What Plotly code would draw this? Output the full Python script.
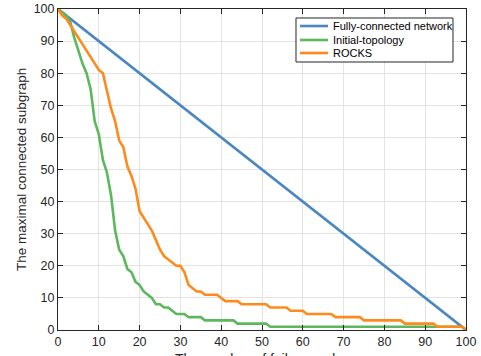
import plotly.graph_objects as go

x_full = [0, 100]
y_full = [100, 0]

x_nodes = list(range(0, 101))

y_initial = [100, 99, 98, 96, 91, 87, 83, 80, 75, 65,
             61, 53, 49, 42, 31, 25, 23, 19, 18, 15,
             14, 12, 11, 10, 8, 8, 7, 7, 6, 5,
             5, 5, 4, 4, 4, 4, 3, 3, 3, 3,
             3, 3, 3, 3, 2, 2, 2, 2, 2, 2,
             2, 2, 1, 1, 1, 1, 1, 1, 1, 1,
             1, 1, 1, 1, 1, 1, 1, 1, 1, 1,
             1, 1, 1, 1, 1, 1, 1, 1, 1, 1,
             1, 1, 1, 1, 1, 1, 1, 1, 1, 1,
             1, 1, 1, 1, 1, 1, 1, 1, 1, 1,
             0]

y_rocks = [100, 98, 97, 95, 93, 91, 89, 87, 85, 83,
           81, 80, 74, 69, 65, 59, 57, 51, 48, 44,
           37, 35, 33, 31, 28, 25, 23, 22, 21, 20,
           20, 18, 14, 13, 12, 12, 11, 11, 11, 11,
           10, 9, 9, 9, 9, 8, 8, 8, 8, 8,
           8, 8, 7, 7, 7, 7, 7, 6, 6, 6,
           6, 5, 5, 5, 5, 5, 5, 5, 4, 4,
           4, 4, 4, 4, 4, 3, 3, 3, 3, 3,
           3, 3, 3, 3, 3, 2, 2, 2, 2, 2,
           2, 2, 2, 1, 1, 1, 1, 1, 1, 1,
           0]

series_names = ["Fully-connected network", "Initial-topology", "ROCKS"]
tick_vals = list(range(0, 101, 10))
x_title = "The number of failure nodes"
y_title = "The maximal connected subgraph"

BLUE = "#4a87c0"
GREEN = "#5cb85c"
ORANGE = "#ff8a1c"
colors = [BLUE, GREEN, ORANGE]

fig = go.Figure()
for xs, ys, name, col in zip([x_full, x_nodes, x_nodes], [y_full, y_initial, y_rocks],
                             series_names, colors):
    fig.add_trace(go.Scatter(x=xs, y=ys, mode="lines", name=name,
                             line=dict(color=col, width=2.6), showlegend=False))

axis_common = dict(
    tickvals=tick_vals,
    ticks="inside",
    ticklen=5,
    tickcolor="#262626",
    showline=True,
    linecolor="#262626",
    linewidth=1,
    mirror="allticks",
    showgrid=True,
    gridcolor="#e3e3e3",
    gridwidth=1,
    zeroline=False,
    automargin=False,
    tickfont=dict(family="Liberation Sans, Arial, sans-serif", size=12.5, color="#262626"),
)

# Legend box (MATLAB style), built from shapes and annotations
leg_x0, leg_x1, leg_y0, leg_y1 = 0.5833, 0.9681, 0.8349, 0.972
row_y = [0.9470, 0.9034, 0.8629]
shapes = [dict(type="rect", xref="paper", yref="paper", x0=leg_x0, x1=leg_x1, y0=leg_y0, y1=leg_y1,
               line=dict(color="#262626", width=1), fillcolor="white", layer="above")]
annotations = []
for name, col, ry in zip(series_names, colors, row_y):
    shapes.append(dict(type="line", xref="paper", yref="paper", x0=0.5931, x1=0.6618, y0=ry, y1=ry,
                       line=dict(color=col, width=2.6), layer="above"))
    annotations.append(dict(text=name, xref="paper", yref="paper", x=0.6691, y=ry,
                            xanchor="left", yanchor="middle", showarrow=False,
                            font=dict(size=11, color="#000000")))

annotations.append(dict(text=x_title, xref="paper", yref="paper", x=0.5, y=0,
                        xanchor="center", yanchor="top", yshift=-19, showarrow=False,
                        font=dict(size=14, color="#262626")))
annotations.append(dict(text=y_title, xref="paper", yref="paper", x=0, y=0.5,
                        xanchor="center", yanchor="middle", xshift=-36.5, textangle=-90,
                        showarrow=False, font=dict(size=13.5, color="#262626")))

fig.update_layout(
    width=481, height=356,
    margin=dict(l=58, r=15, t=9, b=26),
    plot_bgcolor="white",
    paper_bgcolor="white",
    font=dict(family="Liberation Sans, Arial, sans-serif", color="#262626"),
    xaxis=dict(range=[0, 100], **axis_common),
    yaxis=dict(range=[0, 100], **axis_common),
    shapes=shapes,
    annotations=annotations,
    showlegend=False,
)

fig.write_html("out.html", config={"displayModeBar": False},
               post_script="document.body.style.margin='0px';document.body.style.overflow='hidden';")
